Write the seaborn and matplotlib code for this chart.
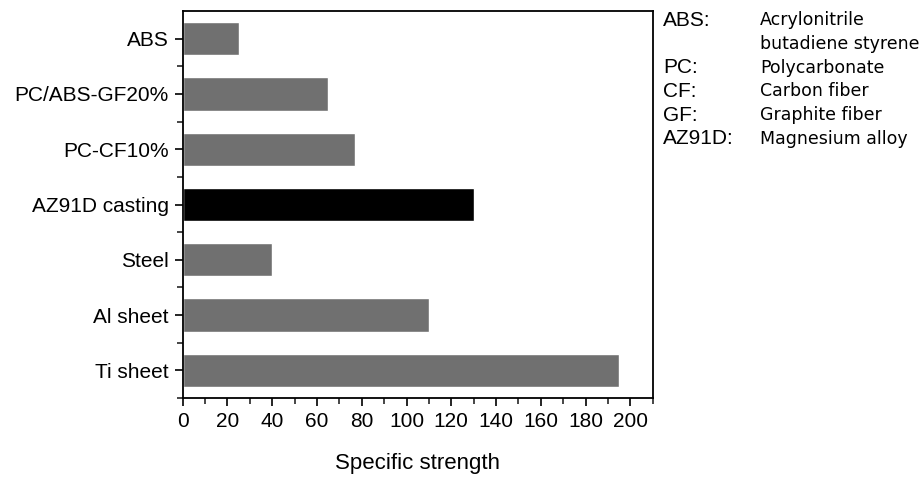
import pandas as pd
import numpy as np
import matplotlib.pyplot as plt
import seaborn as sns
from matplotlib.ticker import MultipleLocator

materials = ["ABS", "PC/ABS-GF20%", "PC-CF10%", "AZ91D casting", "Steel", "Al sheet", "Ti sheet"]
strength = [25, 65, 77, 130, 40, 110, 195]
bar_colors = ["#707070", "#707070", "#707070", "#000000", "#707070", "#707070", "#707070"]

abbrevs = ["ABS:", "", "PC:", "CF:", "GF:", "AZ91D:"]
meanings = ["Acrylonitrile", "butadiene styrene", "Polycarbonate", "Carbon fiber", "Graphite fiber", "Magnesium alloy"]

sns.set_style("white")
plt.rcParams['font.family'] = ['Liberation Sans', 'DejaVu Sans']
plt.rcParams['text.color'] = 'black'
plt.rcParams['axes.labelcolor'] = 'black'

df = pd.DataFrame({"material": materials, "strength": strength})

fig = plt.figure(figsize=(9.21, 4.79), dpi=100)
ax = fig.add_axes([182.7 / 921, 1 - 398 / 479, (652.7 - 182.7) / 921, (398 - 11) / 479])

sns.barplot(data=df, y="material", x="strength", hue="material", palette=bar_colors,
            orient="h", width=0.6, legend=False, ax=ax, saturation=1)

ax.set_xlim(0, 210)
ax.set_ylim(6.5, -0.5)
ax.xaxis.set_major_locator(MultipleLocator(20))
ax.xaxis.set_minor_locator(MultipleLocator(10))
ax.set_yticks(np.arange(len(materials)))
ax.set_yticks(np.arange(len(materials)) + 0.5, minor=True)
ax.set_yticklabels(materials)
ax.tick_params(axis="both", which="major", direction="out", length=6, width=1.2,
               labelsize=15, colors="black", left=True, bottom=True, pad=4)
ax.tick_params(axis="both", which="minor", direction="out", length=4, width=1.2,
               left=True, bottom=True)
ax.set_ylabel("")
ax.set_xlabel("Specific strength", fontsize=16, labelpad=16)
for s in ax.spines.values():
    s.set_color("black")
    s.set_linewidth(1.3)
    s.set_visible(True)

# abbreviation key on the right
y0 = 20
step = 23.8
for i, (a, m) in enumerate(zip(abbrevs, meanings)):
    y = 1 - (y0 + i * step) / 479
    fig.text(663 / 921, y, a, fontsize=15, va="center", ha="left", family="Liberation Sans")
    fig.text(760 / 921, y, m, fontsize=12.5, va="center", ha="left", family="DejaVu Sans")

fig.savefig("out.png", dpi=100)
